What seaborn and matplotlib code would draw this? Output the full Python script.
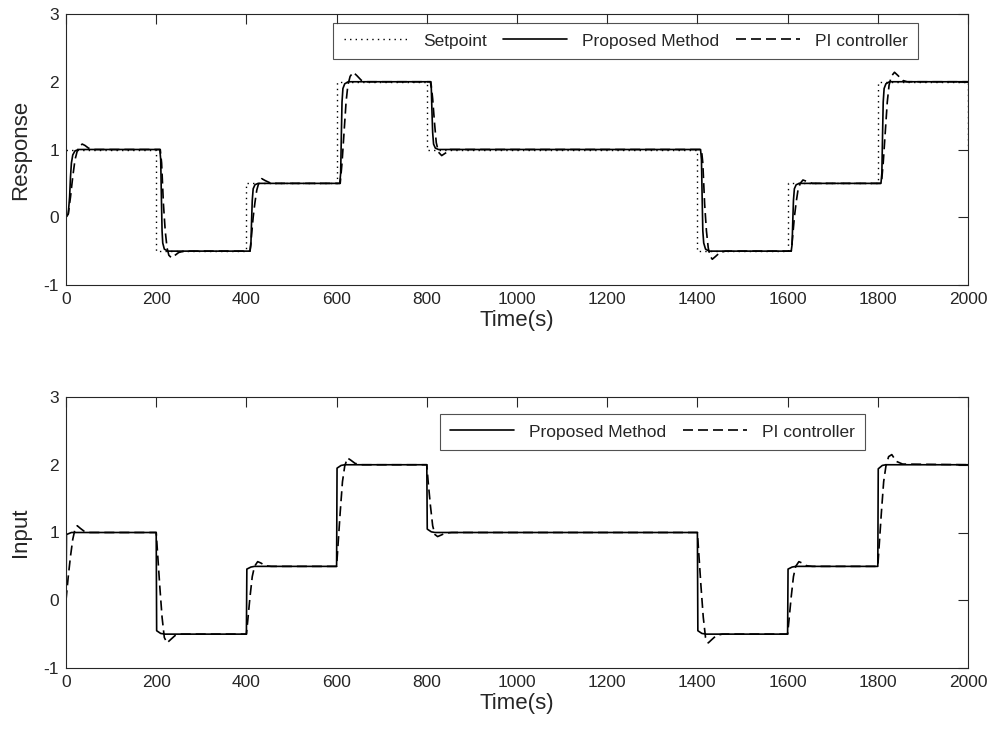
import matplotlib
matplotlib.use("Agg")
import matplotlib.pyplot as plt
import seaborn as sns

# ---------------- data ----------------
sp_t = [0, 200, 200, 400, 400, 600, 600, 800, 800, 1400, 1400, 1600, 1600, 1800, 1800, 2000, 2000]
sp_v = [1, 1, -0.5, -0.5, 0.5, 0.5, 2, 2, 1, 1, -0.5, -0.5, 0.5, 0.5, 2, 2, 1]

resp_prop_t = [0, 5, 8, 10, 12, 15, 20, 28,
               200, 208, 210, 211.5, 213, 214.5, 218, 226,
               400, 408, 410, 411.5, 413, 415, 419, 426,
               600, 607, 609, 610.5, 612, 614, 618, 626,
               800, 808, 810, 811.5, 813, 815, 819, 826,
               1400, 1407, 1409, 1410.5, 1412, 1414, 1418, 1426,
               1600, 1608, 1610, 1611.5, 1613, 1615, 1619, 1626,
               1800, 1807, 1809, 1810.5, 1812, 1814, 1818, 1826,
               2000]
resp_prop_v = [0, 0.05, 0.3, 0.6, 0.8, 0.92, 0.98, 1.0,
               1, 1, 0.85, 0.3, -0.2, -0.38, -0.47, -0.5,
               -0.5, -0.5, -0.4, -0.05, 0.25, 0.42, 0.48, 0.5,
               0.5, 0.5, 0.65, 1.2, 1.7, 1.9, 1.97, 2.0,
               2, 2, 1.9, 1.55, 1.25, 1.08, 1.02, 1.0,
               1, 1, 0.85, 0.3, -0.2, -0.38, -0.47, -0.5,
               -0.5, -0.5, -0.4, -0.05, 0.25, 0.42, 0.48, 0.5,
               0.5, 0.5, 0.65, 1.2, 1.7, 1.9, 1.97, 2.0,
               2.0]

resp_pi_t = [0, 5, 10, 15, 20, 25, 30, 36, 42, 50, 60,
             200, 209, 212, 216, 220, 224, 228, 234, 240, 250, 262,
             400, 408, 411, 415, 419, 423, 428, 434, 442, 455,
             600, 608, 612, 617, 621, 625, 630, 637, 645, 655, 665,
             800, 809, 813, 817, 821, 826, 833, 842, 852,
             1400, 1409, 1412, 1416, 1420, 1424, 1428, 1433, 1440, 1450, 1462,
             1600, 1608, 1611, 1615, 1619, 1623, 1628, 1634, 1642, 1655,
             1800, 1808, 1812, 1817, 1821, 1825, 1830, 1837, 1845, 1855, 1865,
             2000]
resp_pi_v = [0, 0.05, 0.3, 0.6, 0.85, 0.98, 1.05, 1.08, 1.06, 1.02, 1.0,
             1, 1, 0.8, 0.2, -0.2, -0.45, -0.56, -0.6, -0.57, -0.52, -0.5,
             -0.5, -0.5, -0.3, 0.0, 0.22, 0.4, 0.52, 0.57, 0.54, 0.5,
             0.5, 0.5, 0.8, 1.3, 1.7, 1.95, 2.08, 2.14, 2.09, 2.02, 2.0,
             2, 2, 1.75, 1.4, 1.1, 0.96, 0.91, 0.95, 1.0,
             1, 1, 0.8, 0.2, -0.2, -0.45, -0.57, -0.62, -0.58, -0.52, -0.5,
             -0.5, -0.5, -0.3, 0.0, 0.22, 0.4, 0.5, 0.55, 0.53, 0.5,
             0.5, 0.5, 0.8, 1.3, 1.7, 1.95, 2.08, 2.14, 2.09, 2.02, 2.0,
             2.0]

inp_prop_t = [0, 1, 12, 200, 201, 210, 220, 400, 401, 410, 418, 600, 601, 610, 618,
              800, 801, 810, 818, 1400, 1401, 1410, 1420, 1600, 1601, 1610, 1618,
              1800, 1801, 1810, 1818, 2000]
inp_prop_v = [0, 0.97, 1.0, 1.0, -0.45, -0.49, -0.5, -0.5, 0.46, 0.49, 0.5, 0.5, 1.95, 1.99, 2.0,
              2.0, 1.05, 1.01, 1.0, 1.0, -0.45, -0.49, -0.5, -0.5, 0.46, 0.49, 0.5,
              0.5, 1.94, 1.99, 2.0, 2.0]

inp_pi_t = [0, 5, 10, 15, 20, 25, 32, 40, 50,
            200, 203, 208, 213, 218, 224, 232, 242, 255,
            400, 403, 408, 413, 418, 425, 432, 442, 455,
            600, 603, 608, 613, 618, 624, 631, 641, 655,
            800, 803, 808, 813, 818, 824, 831, 841, 855,
            1400, 1403, 1408, 1413, 1418, 1424, 1432, 1442, 1455,
            1600, 1603, 1608, 1613, 1618, 1625, 1632, 1642, 1655,
            1800, 1803, 1808, 1813, 1818, 1824, 1831, 1841, 1855,
            2000]
inp_pi_v = [0, 0.35, 0.65, 0.9, 1.05, 1.1, 1.06, 1.02, 1.0,
            1, 0.7, 0.2, -0.25, -0.55, -0.63, -0.58, -0.52, -0.5,
            -0.5, -0.3, 0.05, 0.35, 0.5, 0.57, 0.55, 0.51, 0.5,
            0.5, 0.8, 1.3, 1.75, 1.98, 2.1, 2.07, 2.02, 2.0,
            2, 1.75, 1.4, 1.1, 0.97, 0.94, 0.96, 0.99, 1.0,
            1, 0.7, 0.2, -0.25, -0.55, -0.63, -0.58, -0.52, -0.5,
            -0.5, -0.3, 0.05, 0.35, 0.5, 0.57, 0.55, 0.51, 0.5,
            0.5, 0.8, 1.3, 1.75, 1.98, 2.12, 2.15, 2.05, 2.01,
            2.0]

x_ticks = [0, 200, 400, 600, 800, 1000, 1200, 1400, 1600, 1800, 2000]
y_ticks = [-1, 0, 1, 2, 3]

# ---------------- style ----------------
sns.set_style("white")
plt.rcParams['font.family'] = ['Liberation Sans', 'DejaVu Sans']
plt.rcParams['axes.unicode_minus'] = False

fig = plt.figure(figsize=(9.93, 7.39), dpi=100)
ax1 = fig.add_axes([66/993, 1 - 285/739, 902/993, 271/739])
ax2 = fig.add_axes([66/993, 1 - 668/739, 902/993, 271/739])

LW = 1.2
DASH = (6, 3)
DOT = (1, 3)


def line(ax, t, v, label, style):
    if style == "solid":
        sns.lineplot(x=t, y=v, ax=ax, color="black", linewidth=LW, sort=False,
                     estimator=None, label=label)
    elif style == "dash":
        sns.lineplot(x=t, y=v, ax=ax, color="black", linewidth=LW, sort=False,
                     estimator=None, label=label, linestyle=(0, DASH))
    else:
        sns.lineplot(x=t, y=v, ax=ax, color="black", linewidth=1.0, sort=False,
                     estimator=None, label=label, linestyle=(0, DOT))


line(ax1, sp_t, sp_v, "Setpoint", "dot")
line(ax1, resp_prop_t, resp_prop_v, "Proposed Method", "solid")
line(ax1, resp_pi_t, resp_pi_v, "PI controller", "dash")

line(ax2, inp_prop_t, inp_prop_v, "Proposed Method", "solid")
line(ax2, inp_pi_t, inp_pi_v, "PI controller", "dash")

for ax, ylab in ((ax1, "Response"), (ax2, "Input")):
    ax.set_xlim(0, 2000)
    ax.set_ylim(-1, 3)
    ax.set_xticks(x_ticks)
    ax.set_yticks(y_ticks)
    ax.set_xticklabels([str(v) for v in x_ticks])
    ax.set_yticklabels([str(v) for v in y_ticks])
    ax.tick_params(direction="in", top=True, right=True, length=7, width=0.8,
                   labelsize=12.5, colors="#262626", pad=5)
    for sp in ax.spines.values():
        sp.set_visible(True)
        sp.set_color("#262626")
        sp.set_linewidth(0.8)
    ax.set_xlabel("Time(s)", fontsize=16, color="#262626", labelpad=2)
    ax.set_ylabel(ylab, fontsize=16, color="#262626", labelpad=9)

leg_kw = dict(frameon=True, fancybox=False, edgecolor="#262626",
              fontsize=12.5, handlelength=3.7, handletextpad=0.85, columnspacing=0.95,
              borderpad=0.6, borderaxespad=0)
leg1 = ax1.legend(loc="upper right", bbox_to_anchor=((918 - 66) / 902, 1 - (23 - 14) / 271),
                  ncol=3, **leg_kw)
leg1.get_frame().set_linewidth(0.8)
leg2 = ax2.legend(loc="upper right", bbox_to_anchor=((865 - 66) / 902, 1 - (414 - 397) / 271),
                  ncol=2, **leg_kw)
leg2.get_frame().set_linewidth(0.8)

fig.savefig("out.png", dpi=100)
